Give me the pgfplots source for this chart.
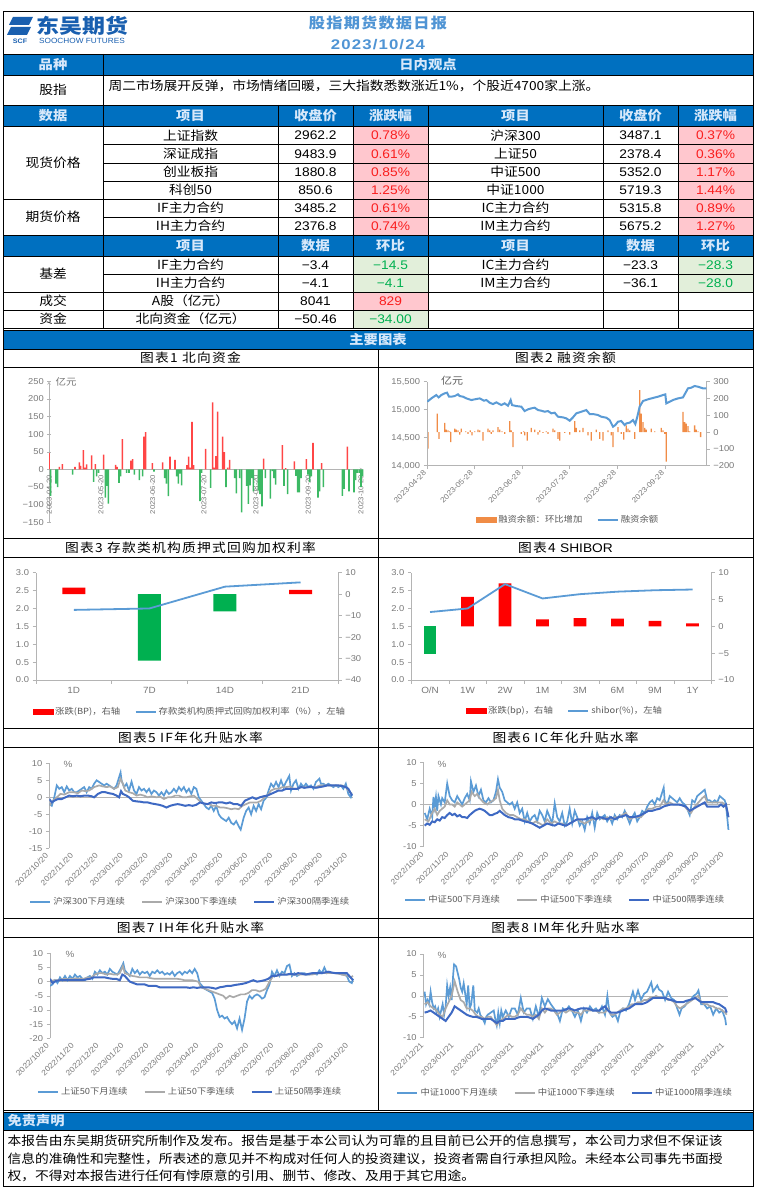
\documentclass[border=0pt]{standalone}
\usepackage{fontspec}
\usepackage{pgfplots}
\pgfplotsset{compat=1.18}
\setmainfont{Noto Sans CJK SC}[FakeStretch=1.1]
\newfontfamily\ar{Liberation Sans}[FakeStretch=1.1]
\newfontfamily\ttlf{Noto Sans CJK SC}[FakeStretch=1.1,LetterSpace=10]
\newfontfamily\hdf{Noto Sans CJK SC}[FakeStretch=1.12,LetterSpace=8]
\newfontfamily\hdar{Liberation Sans}[FakeStretch=1.2,LetterSpace=8]
\newfontfamily\logof{Noto Sans CJK SC}[FakeStretch=1.15]

\definecolor{hblue}{RGB}{0,112,192}
\definecolor{htext}{RGB}{215,232,250}
\definecolor{ttl}{RGB}{79,148,212}
\definecolor{logob}{RGB}{25,95,175}
\definecolor{pinkc}{RGB}{255,199,206}
\definecolor{redt}{RGB}{250,30,30}
\definecolor{greenc}{RGB}{226,239,218}
\definecolor{greent}{RGB}{0,176,80}
\definecolor{lb}{RGB}{91,155,213}
\definecolor{gr}{RGB}{170,170,170}
\definecolor{db}{RGB}{62,105,195}
\definecolor{axg}{RGB}{180,180,180}
\definecolor{tkg}{RGB}{120,120,120}
\definecolor{lgc}{RGB}{89,89,89}
\definecolor{org}{RGB}{240,140,70}
\definecolor{rbar}{RGB}{255,70,70}
\definecolor{gbar}{RGB}{60,185,100}
\definecolor{rb}{RGB}{255,0,0}
\definecolor{gb}{RGB}{0,176,80}

\newcommand\tk{\ar\fontsize{8.5}{10}\selectfont}
\newcommand\lgf{\fontsize{8.5}{10}\selectfont}
\newcommand\tbf{\fontsize{12.5}{14}\selectfont}
\newcommand\tnum{\ar\fontsize{12.5}{14}\selectfont}
\newcommand\hb{\bfseries\fontsize{13}{15}\selectfont\color{htext}}
\newcommand\ttl{\ttlf\fontsize{12.5}{14}\selectfont}

\pgfplotsset{
 every axis/.append style={scale only axis, scaled ticks=false,
  axis line style={-,draw=axg,line width=0.6pt},
  every inner x axis line/.append style={-},every outer x axis line/.append style={-},
  every inner y axis line/.append style={-},every outer y axis line/.append style={-},
  tick style={draw=axg,line width=0.6pt}, tick align=outside, major tick length=3.5pt,
  tick label style={font=\tk,text=tkg},
  legend style={draw=none,fill=none,font=\lgf,text=lgc,legend columns=-1,anchor=center,
   /tikz/every even column/.append style={column sep=12pt}},
  legend image code/.code={\draw[#1,line width=2.4pt] (0pt,0pt) -- (20pt,0pt);},
  major grid style={draw=axg,line width=0.6pt}},
 ts/.style={axis y line*=left, axis x line*=bottom, x axis line style={draw=none},
  xtick style={draw=none}, xticklabel style={rotate=45,anchor=east,font=\ar\fontsize{7.8}{9}\selectfont},
  extra y ticks={0}, extra y tick labels={}, extra y tick style={grid=major},
  legend style={legend columns=3, /tikz/every even column/.append style={column sep=14pt}}},
 s1/.style={lb,line width=1.7pt},
 s2/.style={gr,line width=1.7pt},
 s3/.style={db,line width=2.0pt},
}

\begin{document}
\begin{tikzpicture}[x=1pt,y=-1pt]
\path[use as bounding box] (0,0) rectangle (757,1196);
\coordinate (A1) at (49,522.3);
\coordinate (A2) at (427,465.7);
\coordinate (A3) at (36,680);
\coordinate (A4) at (411.3,680);
\coordinate (A5) at (49.3,848.3);
\coordinate (A6) at (423.7,846.7);
\coordinate (A7) at (50,1038.3);
\coordinate (A8) at (423.7,1037.7);

% ---------- header ----------
\fill[logob] (13,17) -- (33,17) -- (29,25) -- (9,25) -- cycle;
\fill[logob] (11,27) -- (31,27) -- (27,35) -- (7,35) -- cycle;
\node[text=logob] at (20,41) {\ar\bfseries\fontsize{6.5}{7}\selectfont SCF};
\node at (82,26) {\logof\bfseries\fontsize{20}{22}\selectfont\color{logob}东吴期货};
\node at (82,41) {\ar\fontsize{7.5}{8}\selectfont\color{logob}SOOCHOW FUTURES};
\node at (378,23) {\hdf\bfseries\fontsize{14.5}{16}\selectfont\color{ttl}股指期货数据日报};
\node at (378,45) {\hdar\bfseries\fontsize{14}{16}\selectfont\color{ttl}2023/10/24};

% ---------- table fills ----------
\fill[hblue] (3,54) rectangle (753,75);
\fill[hblue] (3,105) rectangle (753,126);
\fill[hblue] (3,235) rectangle (753,256);
\fill[hblue] (3,330) rectangle (753,349);
\fill[pinkc] (353,126) rectangle (428,235);
\fill[pinkc] (678,126) rectangle (753,235);
\fill[greenc] (353,256) rectangle (428,292);
\fill[greenc] (678,256) rectangle (753,292);
\fill[pinkc] (353,292) rectangle (428,310);
\fill[greenc] (353,310) rectangle (428,328);

% lines
\begin{scope}[line width=0.6pt]
\draw (3,54)--(753,54); \draw (3,75)--(753,75); \draw (3,105)--(753,105); \draw (3,126)--(753,126);
\foreach \y in {144.5,163,181,217,274} \draw (103,\y)--(753,\y);
\foreach \y in {199,235,256,292,310,328,330} \draw (3,\y)--(753,\y);
\draw (103,54)--(103,328);
\foreach \x in {278,353,428,603,678} \draw (\x,105)--(\x,328);
\end{scope}

% header row texts
\node at (53,64.5) {\hb 品种};
\node at (428,64.5) {\hb 日内观点};
\node at (53,90) {\tbf 股指};
\node[anchor=west] at (105,86) {\tbf 周二市场展开反弹，市场情绪回暖，三大指数悉数涨近1\%，个股近4700家上涨。};
\node at (53,115.5) {\hb 数据};
\node at (190.5,115.5) {\hb 项目};
\node at (315.5,115.5) {\hb 收盘价};
\node at (390.5,115.5) {\hb 涨跌幅};
\node at (515.5,115.5) {\hb 项目};
\node at (640.5,115.5) {\hb 收盘价};
\node at (715.5,115.5) {\hb 涨跌幅};

\node at (53,162.5) {\tbf 现货价格};
\node at (53,217) {\tbf 期货价格};
\foreach \yy/\a/\b/\c/\d/\e/\f in {
 135.3/上证指数/2962.2/0.78\%/沪深300/3487.1/0.37\%,
 153.8/深证成指/9483.9/0.61\%/上证50/2378.4/0.36\%,
 172/创业板指/1880.8/0.85\%/中证500/5352.0/1.17\%,
 190/科创50/850.6/1.25\%/中证1000/5719.3/1.44\%,
 208/IF主力合约/3485.2/0.61\%/IC主力合约/5315.8/0.89\%,
 226/IH主力合约/2376.8/0.74\%/IM主力合约/5675.2/1.27\%} {
 \node at (190.5,\yy) {\tbf \a};
 \node at (315.5,\yy) {\tnum \b};
 \node[text=redt] at (390.5,\yy) {\tnum \c};
 \node at (515.5,\yy) {\tbf \d};
 \node at (640.5,\yy) {\tnum \e};
 \node[text=redt] at (715.5,\yy) {\tnum \f};
}
\node at (190.5,245.5) {\hb 项目};
\node at (315.5,245.5) {\hb 数据};
\node at (390.5,245.5) {\hb 环比};
\node at (515.5,245.5) {\hb 项目};
\node at (640.5,245.5) {\hb 数据};
\node at (715.5,245.5) {\hb 环比};

\node at (53,274) {\tbf 基差};
\node at (190.5,265) {\tbf IF主力合约};
\node at (315.5,265) {\tnum −3.4};
\node[text=greent] at (390.5,265) {\tnum −14.5};
\node at (515.5,265) {\tbf IC主力合约};
\node at (640.5,265) {\tnum −23.3};
\node[text=greent] at (715.5,265) {\tnum −28.3};
\node at (190.5,283) {\tbf IH主力合约};
\node at (315.5,283) {\tnum −4.1};
\node[text=greent] at (390.5,283) {\tnum −4.1};
\node at (515.5,283) {\tbf IM主力合约};
\node at (640.5,283) {\tnum −36.1};
\node[text=greent] at (715.5,283) {\tnum −28.0};
\node at (53,301) {\tbf 成交};
\node at (190.5,301) {\tbf A股（亿元）};
\node at (315.5,301) {\tnum 8041};
\node[text=redt] at (390.5,301) {\tnum 829};
\node at (53,319) {\tbf 资金};
\node at (190.5,319) {\tbf 北向资金（亿元）};
\node at (315.5,319) {\tnum −50.46};
\node[text=greent] at (390.5,319) {\tnum −34.00};
\node at (378,339.5) {\hb 主要图表};

% ---------- chart frames ----------
\begin{scope}[line width=0.8pt]
\foreach \x in {3,378} {
 \foreach \ya/\yb/\yc in {349/367/538,538/557/728,728/747/918,918/937/1110} {
  \draw (\x,\ya) rectangle ({\x+375},\yb);
  \draw (\x,\yb) rectangle ({\x+375},\yc);
 }}
\end{scope}
\node at (190.5,358) {\ttl 图表1\ 北向资金};
\node at (565.5,358) {\ttl 图表2\ 融资余额};
\node at (190.5,547.5) {\ttl 图表3\ 存款类机构质押式回购加权利率};
\node at (565.5,547.5) {\ttl 图表4\ \ar SHIBOR};
\node at (190.5,737.5) {\ttl 图表5\ IF年化升贴水率};
\node at (565.5,737.5) {\ttl 图表6\ IC年化升贴水率};
\node at (190.5,927.5) {\ttl 图表7\ IH年化升贴水率};
\node at (565.5,927.5) {\ttl 图表8\ IM年化升贴水率};

% ---------- chart 1 ----------
\begin{axis}[at={(A1)},anchor=south west,width=314.3pt,height=141pt,
 xmin=147,xmax=1090,ymin=-150,ymax=250,
 axis x line=middle, axis y line=left, hide obscured x ticks=false,
 ytick={-150,-100,-50,0,50,100,150,200,250},
 yticklabels={−150,−100,−50,0,50,100,150,200,250},
 xtick={148,303,458,612,768,925,1083},
 xticklabels={2023-04-20,2023-05-20,2023-06-20,2023-07-20,2023-08-20,2023-09-20,2023-10-20},
 xticklabel style={rotate=90,anchor=east,font=\ar\fontsize{7}{8}\selectfont},
 xtick style={draw=none}]
\addplot[ybar,bar width=1.6pt,bar shift=0pt,fill=rbar,draw=none] coordinates {
(147,47) (178,7) (187,15) (225,7) (238,20) (242,10) (250,55) (255,5) (260,14) (275,40) (286,15) (311,42) (347,13) (351,7) (367,86) (393,25) (398,29) (432,93) (437,106) (457,18) (488,20) (510,36) (525,27) (561,12) (566,36) (571,5) (576,135) (581,12) (617,58) (638,190) (643,5) (648,38) (653,164) (668,93) (673,49) (683,5) (689,27) (791,31) (847,69) (857,4) (883,23) (919,29) (939,75) (965,18) (1042,65)};
\addplot[ybar,bar width=1.6pt,bar shift=0pt,fill=gbar,draw=none] coordinates {
(152,-75) (168,-40) (173,-50) (218,-15) (281,-35) (290,-20) (296,-10) (316,-80) (320,-47) (325,-97) (357,-38) (362,-20) (380,-10) (387,-10) (403,-15) (418,-30) (428,-20) (462,-6) (494,-25) (499,-40) (505,-76) (530,-20) (535,-40) (540,-12) (545,-45) (600,-90) (605,-10) (632,-52) (678,-50) (704,-25) (709,-68) (719,-25) (725,-122) (740,-47) (745,-98) (750,-45) (755,-25) (760,-62) (775,-60) (780,-70) (786,-105) (796,-25) (811,-83) (817,-5) (822,-25) (827,-43) (852,-47) (863,-70) (888,-18) (893,-65) (898,-65) (903,-25) (924,-15) (929,-35) (934,-20) (954,-80) (959,-62) (970,-50) (1027,-75) (1032,-55) (1047,-62) (1062,-65) (1067,-30) (1072,-10) (1078,-10) (1083,-50) (1088,-20)};
\end{axis}
\node[text=tkg] at (66,382) {\fontsize{9.5}{11}\selectfont 亿元};

% ---------- chart 2 ----------
\begin{axis}[at={(A2)},anchor=south west,width=279.3pt,height=84pt,
 xmin=147,xmax=985,ymin=-200,ymax=300, axis y line*=right, axis x line=none, xtick=\empty,
 ytick={-200,-100,0,100,200,300}, yticklabels={−200,−100,0,100,200,300}]
\addplot[ybar,bar width=1.3pt,bar shift=0pt,fill=org,draw=none] coordinates {
(150,-98) (178,110) (183,-40) (200,55) (205,15) (210,10) (215,5) (218,-60) (230,20) (235,15) (240,10) (245,-15) (250,20) (263,5) (270,-10) (277,10) (282,-20) (290,5) (300,15) (305,10) (315,-50) (330,20) (335,10) (340,-10) (345,10) (360,30) (365,15) (372,5) (380,-10) (395,65) (400,10) (405,-90) (430,-10) (437,5) (440,-20) (448,-50) (460,25) (470,15) (480,-15) (485,10) (495,-5) (505,5) (510,-10) (525,20) (530,10) (540,-40) (545,-50) (560,-5) (575,-15) (590,65) (595,25) (605,10) (615,25) (630,-20) (640,-50) (655,15) (665,-40) (675,-50) (690,10) (700,-20) (705,-90) (720,30) (730,-10) (737,-45) (745,40) (750,20) (755,10) (770,-40) (785,250) (790,110) (795,60) (800,25) (805,15) (820,20) (830,5) (850,25) (855,10) (860,-10) (865,-175) (915,120) (920,60) (925,50) (930,35) (935,5) (950,40) (955,15) (960,5) (968,-30)};
\end{axis}
\begin{axis}[at={(A2)},anchor=south west,width=279.3pt,height=84pt,
 xmin=147,xmax=985,ymin=14000,ymax=15500, axis y line*=left, axis x line*=bottom,
 ytick={14000,14500,15000,15500}, yticklabels={{14,000},{14,500},{15,000},{15,500}},
 xtick={148,288,432,574,718,862},
 xticklabels={2023-04-28,2023-05-28,2023-06-28,2023-07-28,2023-08-28,2023-09-28},
 xticklabel style={rotate=45,anchor=east,font=\ar\fontsize{7.5}{8}\selectfont},
 legend style={at={(0.505,-0.646)}}]
\addlegendimage{legend image code/.code={\fill[org] (0pt,-2.5pt) rectangle (20pt,2.5pt);}}
\addplot[lb,line width=2pt] coordinates {
(148,15143) (160,15202) (175,15262) (182,15220) (190,15262) (200,15292) (207,15304) (213,15232) (220,15232) (230,15244) (240,15274) (245,15244) (255,15232) (265,15202) (280,15173) (290,15185) (305,15202) (318,15161) (325,15173) (335,15125) (345,15101) (355,15131) (370,15083) (380,15113) (390,15071) (398,15173) (402,15083) (415,15065) (430,15054) (440,14976) (450,15006) (460,15024) (470,15036) (480,14994) (490,14982) (500,14964) (510,14976) (520,14935) (530,14946) (540,14875) (555,14863) (565,14845) (575,14804) (585,14863) (595,14935) (610,14964) (625,14994) (635,14923) (645,14923) (660,14905) (670,14875) (685,14857) (695,14815) (705,14696) (712,14726) (720,14786) (730,14798) (740,14726) (745,14756) (755,14768) (765,14815) (772,14744) (778,14875) (785,15054) (795,15155) (810,15185) (820,15202) (840,15232) (855,15262) (862,15274) (865,15113) (875,15143) (885,15173) (900,15202) (915,15220) (930,15381) (940,15393) (950,15423) (960,15411) (975,15381) (985,15381)};
\legend{融资余额：环比增加,融资余额}
\end{axis}
\node[text=lgc] at (452,381) {\fontsize{10}{11}\selectfont 亿元};

% ---------- chart 3 ----------
\begin{axis}[at={(A3)},anchor=south west,width=302.3pt,height=107.3pt,
 xmin=-0.5,xmax=3.5,ymin=-40,ymax=10, axis y line*=right, axis x line=none, xtick=\empty,
 ytick={-40,-30,-20,-10,0,10}, yticklabels={−40,−30,−20,−10,0,10}]
\addplot[ybar,bar width=23pt,bar shift=0pt,fill=rb,draw=none] coordinates {(0,3) (3,2)};
\addplot[ybar,bar width=23pt,bar shift=0pt,fill=gb,draw=none] coordinates {(1,-31) (2,-8)};
\end{axis}
\begin{axis}[at={(A3)},anchor=south west,width=302.3pt,height=107.3pt,
 xmin=-0.5,xmax=3.5,ymin=0,ymax=3, axis y line*=left, axis x line*=bottom,
 ytick={0,0.5,1,1.5,2,2.5,3}, yticklabels={0.0,0.5,1.0,1.5,2.0,2.5,3.0},
 xtick={-0.5,0.5,1.5,2.5,3.5}, x tick label as interval, xticklabels={1D,7D,14D,21D},
 xticklabel style={font=\ar\fontsize{9}{10}\selectfont},
 legend style={at={(0.509,-0.298)}}]
\addlegendimage{legend image code/.code={\fill[rb] (0pt,-2.5pt) rectangle (20pt,2.5pt);}}
\addplot[lb,line width=1.8pt] coordinates {(0,1.96) (1,2.0) (2,2.61) (3,2.73)};
\legend{涨跌(BP)，右轴,存款类机构质押式回购加权利率（\%），左轴}
\end{axis}

% ---------- chart 4 ----------
\begin{axis}[at={(A4)},anchor=south west,width=300pt,height=107.3pt,
 xmin=-0.5,xmax=7.5,ymin=-10,ymax=10, axis y line*=right, axis x line=none, xtick=\empty,
 ytick={-10,-5,0,5,10}, yticklabels={−10,−5,0,5,10}]
\addplot[ybar,bar width=12.7pt,bar shift=0pt,fill=rb,draw=none] coordinates {(1,5.5) (2,8.0) (3,1.3) (4,1.55) (5,1.43) (6,1.0) (7,0.56)};
\addplot[ybar,bar width=12.7pt,bar shift=0pt,fill=gb,draw=none] coordinates {(0,-5.2)};
\end{axis}
\begin{axis}[at={(A4)},anchor=south west,width=300pt,height=107.3pt,
 xmin=-0.5,xmax=7.5,ymin=0,ymax=3, axis y line*=left, axis x line*=bottom,
 ytick={0,0.5,1,1.5,2,2.5,3}, yticklabels={0.0,0.5,1.0,1.5,2.0,2.5,3.0},
 xtick={-0.5,0.5,1.5,2.5,3.5,4.5,5.5,6.5,7.5}, x tick label as interval,
 xticklabels={O/N,1W,2W,1M,3M,6M,9M,1Y},
 xticklabel style={font=\ar\fontsize{9}{10}\selectfont},
 legend style={at={(0.512,-0.29)}}]
\addlegendimage{legend image code/.code={\fill[rb] (0pt,-2.5pt) rectangle (20pt,2.5pt);}}
\addplot[lb,line width=1.8pt] coordinates {(0,1.90) (1,2.00) (2,2.68) (3,2.28) (4,2.40) (5,2.47) (6,2.51) (7,2.53)};
\legend{涨跌(bp)，右轴,shibor(\%)，左轴}
\end{axis}

% ---------- chart 5 IF ----------
\begin{axis}[ts,at={(A5)},anchor=south west,width=304pt,height=85pt,
 xmin=0,xmax=12.2,ymin=-15,ymax=10,
 ytick={-15,-10,-5,0,5,10}, yticklabels={-15,-10,-5,0,5,10},
 xtick={0,...,12},
 xticklabels={2022/10/20,2022/11/20,2022/12/20,2023/01/20,2023/02/20,2023/03/20,2023/04/20,2023/05/20,2023/06/20,2023/07/20,2023/08/20,2023/09/20,2023/10/20},
 legend style={at={(0.463,-0.632)}}]
\addplot[s1] coordinates {(0,-2)(0.1,-2.5)(0.2,0)(0.3,3.5)(0.4,2.5)(0.5,3)(0.6,1.5)(0.7,3.2)(0.8,2)(0.9,2.5)(1.0,1.5)(1.1,1.5)(1.2,2)(1.3,2.5)(1.4,3)(1.5,1.5)(1.6,3)(1.7,2.5)(1.8,4)(1.9,5)(2.0,4.5)(2.1,4)(2.2,3.5)(2.3,4)(2.4,3.5)(2.5,3)(2.6,2.5)(2.7,3.5)(2.86,7.3)(2.9,5)(3.0,3)(3.1,4)(3.2,2)(3.3,4.6)(3.4,2)(3.5,1)(3.6,3)(3.7,2)(3.8,2.5)(3.9,1.5)(4.0,2.5)(4.1,1)(4.2,2)(4.3,1.5)(4.4,0.5)(4.5,1.5)(4.6,0.5)(4.7,2)(4.8,1)(4.9,1.5)(5.0,2.5)(5.1,1.5)(5.2,3)(5.3,2)(5.4,3)(5.5,1.5)(5.6,2.5)(5.7,1)(5.8,3)(5.9,2.5)(6.0,0)(6.1,-1)(6.2,-2)(6.3,-3)(6.4,-3.5)(6.5,-2.5)(6.6,-4)(6.7,-2.5)(6.8,-5)(6.9,-6)(7.0,-6.5)(7.1,-7)(7.2,-6)(7.3,-7.5)(7.4,-8)(7.5,-7)(7.6,-8.5)(7.68,-9.5)(7.8,-6)(7.9,-4)(8.0,-3)(8.1,-5)(8.2,-2.5)(8.3,-4)(8.4,-2)(8.5,-3.5)(8.6,-1)(8.72,0)(8.8,2)(8.9,4)(9.0,3)(9.1,4.5)(9.2,3)(9.3,5)(9.4,3)(9.5,4.5)(9.63,6.3)(9.7,2)(9.8,4)(9.9,5)(10.0,2.5)(10.1,4)(10.2,3)(10.3,4)(10.4,3)(10.5,3.5)(10.6,2.5)(10.7,4.5)(10.84,5.5)(10.9,4)(11.0,4)(11.1,3.5)(11.2,4)(11.3,3.5)(11.4,3)(11.5,3.5)(11.6,3)(11.7,3.5)(11.8,2.5)(11.9,4)(12.0,1)(12.1,0)(12.15,1)};
\addplot[s2] coordinates {(0,-2.5)(0.15,-1)(0.3,0)(0.45,1)(0.6,0.8)(0.8,1.5)(1.0,1.5)(1.15,1.2)(1.3,2)(1.45,1.8)(1.6,2)(1.8,3)(2.0,3.5)(2.15,3.2)(2.3,3)(2.45,3.2)(2.6,2.5)(2.75,3)(2.86,5.5)(2.95,4)(3.05,2)(3.2,1.5)(3.35,1.2)(3.5,0.5)(3.65,0.8)(3.8,0.5)(3.95,0)(4.1,0.3)(4.3,0)(4.45,0.2)(4.6,-0.5)(4.75,0)(4.9,0)(5.05,0.5)(5.2,0.5)(5.35,0)(5.5,0)(5.65,0.3)(5.8,0.5)(5.95,-0.5)(6.1,-1.5)(6.25,-2)(6.4,-2)(6.55,-2.5)(6.7,-2.5)(6.85,-3)(7.0,-3)(7.15,-3.2)(7.3,-3.5)(7.45,-3.3)(7.6,-3.5)(7.75,-2.5)(7.9,-2)(8.05,-1.5)(8.2,-1.5)(8.35,-1.5)(8.5,-1)(8.65,0)(8.8,1)(8.9,2)(9.05,2.5)(9.2,2.5)(9.35,3)(9.5,3)(9.65,3.2)(9.8,2.5)(9.95,2.5)(10.1,3)(10.25,3)(10.4,3)(10.55,3)(10.7,3)(10.85,3.5)(11.0,3.5)(11.15,3.5)(11.3,3.5)(11.45,3.5)(11.6,3.5)(11.75,3.5)(11.9,3)(12.0,2)(12.15,1)};
\addplot[s3] coordinates {(0,-0.5)(0.1,-1.5)(0.2,-1)(0.35,-0.5)(0.5,-0.5)(0.65,0)(0.8,0.5)(0.95,0.3)(1.1,0.5)(1.25,0.3)(1.4,0.5)(1.55,0.5)(1.7,0.3)(1.8,0)(1.95,1)(2.1,1.5)(2.25,1.5)(2.4,1.2)(2.55,1)(2.7,0.5)(2.8,0)(2.88,1.8)(2.95,1)(3.1,0.5)(3.2,0)(3.35,-1)(3.5,-1.2)(3.65,-1.3)(3.8,-1.5)(3.95,-1.5)(4.1,-1.8)(4.25,-2)(4.4,-2.2)(4.55,-2.5)(4.7,-3)(4.85,-2.5)(5.0,-2.2)(5.15,-2)(5.3,-2.2)(5.45,-2.5)(5.6,-2.3)(5.75,-2.5)(5.9,-2.2)(6.05,-1.5)(6.2,-1.8)(6.35,-2)(6.5,-1.5)(6.65,-1.7)(6.8,-1.5)(6.95,-1.5)(7.1,-1.8)(7.25,-1.5)(7.4,-2)(7.55,-2)(7.7,-2.5)(7.85,-1)(8.0,-0.5)(8.15,0)(8.3,-0.5)(8.45,0)(8.6,0.3)(8.75,0.5)(8.9,1)(9.05,1.5)(9.2,2)(9.35,2)(9.5,2.5)(9.65,2.5)(9.8,2.5)(9.95,2.5)(10.1,3)(10.25,2.8)(10.4,3)(10.55,3)(10.7,2.8)(10.85,3)(11.0,3.2)(11.15,3.5)(11.3,3.5)(11.45,3.5)(11.6,3.5)(11.75,3.3)(11.9,3)(12.0,2.5)(12.15,0.5)};
\legend{沪深300下月连续,沪深300下季连续,沪深300隔季连续}
\end{axis}
\node[text=tkg] at (68,764) {\ar\fontsize{9}{10}\selectfont\%};

% ---------- chart 6 IC ----------
\begin{axis}[ts,at={(A6)},anchor=south west,width=306pt,height=84.4pt,
 xmin=-0.04,xmax=12.2,ymin=-10,ymax=10,
 ytick={-10,-5,0,5,10}, yticklabels={-10,-5,0,5,10},
 xtick={0,...,12},
 xticklabels={2022/10/20,2022/11/20,2022/12/20,2023/01/20,2023/02/20,2023/03/20,2023/04/20,2023/05/20,2023/06/20,2023/07/20,2023/08/20,2023/09/20,2023/10/20},
 legend style={at={(0.462,-0.63)}}]
\addplot[s1] coordinates {(0,-2)(0.1,-3.5)(0.2,-1)(0.3,-3)(0.35,1.8)(0.4,-0.5)(0.45,1.8)(0.5,-1.5)(0.55,2)(0.65,0)(0.7,1.5)(0.8,0.5)(0.9,5)(1.0,2)(1.1,1)(1.2,0.5)(1.3,2)(1.4,1)(1.5,0)(1.6,1.5)(1.7,2.5)(1.8,1)(1.85,5.5)(1.95,3)(2.05,4.5)(2.15,2)(2.25,3.5)(2.35,1)(2.45,0.5)(2.55,1.5)(2.65,0.5)(2.75,1)(2.85,3)(2.93,6)(3.0,4)(3.1,3)(3.2,1)(3.3,0.5)(3.4,0)(3.5,0.5)(3.6,-1)(3.7,0.5)(3.8,-2)(3.9,-1)(4.0,-4)(4.1,-2)(4.2,-4)(4.3,-3)(4.4,-2.5)(4.5,-4)(4.6,-1.5)(4.7,-2.5)(4.8,-4)(4.9,-1.5)(5.0,-3)(5.1,-4.5)(5.2,0.3)(5.3,-3)(5.4,-4)(5.5,-2)(5.6,-5)(5.7,-4)(5.8,-1)(5.9,-4.5)(6.0,-1.5)(6.1,-3)(6.2,-5)(6.3,-4)(6.4,-6)(6.5,-3)(6.6,-4.5)(6.7,-2)(6.8,-5.5)(6.9,-2)(7.0,-3.5)(7.1,-3)(7.2,-2.5)(7.3,-4)(7.4,-3)(7.5,-4.5)(7.6,-2.5)(7.7,-3.5)(7.8,-2.5)(7.9,-3)(8.0,-1.5)(8.1,-3)(8.2,-4.5)(8.3,-3)(8.4,-2)(8.5,-4)(8.6,-3)(8.7,-1.5)(8.8,-2)(8.9,-0.5)(9.0,0.5)(9.1,1)(9.2,0)(9.3,1.5)(9.4,1)(9.56,4)(9.6,1)(9.7,0)(9.8,2)(9.9,1.5)(10.0,1)(10.1,0.5)(10.2,1.5)(10.3,0.5)(10.4,0)(10.5,-1)(10.6,-2.5)(10.7,1)(10.8,0.5)(10.9,2)(11.0,2.5)(11.1,3)(11.2,3.5)(11.3,1)(11.4,1)(11.5,0.5)(11.6,1)(11.7,0.5)(11.8,2)(11.9,1.5)(12.0,1)(12.05,0)(12.1,-3)(12.15,-6)};
\addplot[s2] coordinates {(0,-3.5)(0.15,-4)(0.3,-2)(0.4,-1)(0.5,-2.5)(0.6,-1.5)(0.7,-1)(0.8,-0.5)(0.9,1)(1.0,0)(1.1,0)(1.2,-0.5)(1.3,0.5)(1.4,0)(1.5,-0.5)(1.6,0)(1.7,0.5)(1.8,1)(1.88,3)(2.0,2)(2.1,2.5)(2.2,1.5)(2.35,0.5)(2.5,0)(2.6,0.5)(2.75,1)(2.85,1.5)(2.93,3.5)(3.0,1)(3.1,-1)(3.25,-2)(3.4,-2.5)(3.55,-2.5)(3.7,-3)(3.85,-3.5)(4.0,-3.5)(4.15,-4)(4.3,-4.5)(4.45,-4)(4.6,-4.5)(4.75,-5)(4.9,-3.5)(5.05,-4.5)(5.2,-4)(5.35,-4.5)(5.5,-4.5)(5.65,-5)(5.8,-4.5)(5.95,-4)(6.1,-3.5)(6.25,-4)(6.4,-4.5)(6.55,-4)(6.7,-3.5)(6.85,-3.5)(7.0,-3)(7.15,-3.5)(7.3,-3)(7.45,-3.5)(7.6,-3)(7.75,-3)(7.9,-2.5)(8.05,-2)(8.2,-3.5)(8.35,-3)(8.5,-3)(8.65,-3)(8.8,-2)(8.95,-1)(9.1,-1)(9.25,-0.5)(9.4,-0.5)(9.55,1)(9.65,0)(9.8,0.5)(9.95,0)(10.1,0)(10.25,0)(10.4,-0.5)(10.55,-1.5)(10.65,-2)(10.8,-0.5)(10.95,0.5)(11.1,1.5)(11.2,2)(11.3,0.5)(11.45,0.5)(11.6,0.5)(11.75,0.5)(11.9,0.5)(12.0,0)(12.1,-1.5)(12.15,-3)};
\addplot[s3] coordinates {(0,-5)(0.1,-4.5)(0.2,-4.8)(0.3,-4)(0.4,-4.2)(0.5,-3.5)(0.6,-3.8)(0.7,-3)(0.8,-3.2)(0.9,-2.5)(1.0,-2)(1.1,-2.5)(1.2,-2.2)(1.3,-2.8)(1.4,-2.5)(1.5,-3)(1.6,-3)(1.7,-3.2)(1.8,-2.5)(1.9,-2)(2.0,-1.5)(2.1,-1.2)(2.2,-1)(2.3,-1.2)(2.4,-1.5)(2.5,-2)(2.6,-2.5)(2.7,-2.5)(2.8,-2.2)(2.9,-2)(3.0,-1.5)(3.1,-2)(3.2,-2.5)(3.35,-3)(3.5,-3.2)(3.6,-3.5)(3.75,-3.5)(3.9,-3.8)(4.0,-4)(4.15,-4.2)(4.3,-4.5)(4.45,-5)(4.6,-5.5)(4.75,-5)(4.9,-4.5)(5.05,-4.8)(5.2,-5)(5.35,-4.5)(5.5,-4.8)(5.65,-5)(5.8,-4.5)(5.95,-4)(6.1,-3.5)(6.25,-3.5)(6.4,-3.5)(6.55,-3.2)(6.7,-3)(6.85,-3.5)(7.0,-3)(7.15,-3.2)(7.3,-3.5)(7.45,-3)(7.6,-3.5)(7.75,-3)(7.9,-2.8)(8.05,-2.5)(8.2,-3)(8.35,-3)(8.5,-2.8)(8.65,-2.5)(8.8,-2)(8.95,-1.5)(9.1,-1.5)(9.25,-1.2)(9.4,-1)(9.55,-0.5)(9.7,-0.2)(9.85,0)(10.0,0)(10.15,0)(10.3,-0.2)(10.45,-0.5)(10.6,-1.5)(10.75,-1)(10.9,-0.5)(11.05,0)(11.2,0.5)(11.3,-0.5)(11.45,-0.5)(11.6,-0.5)(11.75,-0.5)(11.85,0)(11.95,-0.5)(12.05,0)(12.1,-1.5)(12.15,-3)};
\legend{中证500下月连续,中证500下季连续,中证500隔季连续}
\end{axis}
\node[text=tkg] at (442,764) {\ar\fontsize{9}{10}\selectfont\%};

% ---------- chart 7 IH ----------
\begin{axis}[ts,at={(A7)},anchor=south west,width=304.3pt,height=85pt,
 xmin=0,xmax=12.2,ymin=-20,ymax=10,
 ytick={-20,-15,-10,-5,0,5,10}, yticklabels={-20,-15,-10,-5,0,5,10},
 xtick={0,...,12},
 xticklabels={2022/10/20,2022/11/20,2022/12/20,2023/01/20,2023/02/20,2023/03/20,2023/04/20,2023/05/20,2023/06/20,2023/07/20,2023/08/20,2023/09/20,2023/10/20},
 legend style={at={(0.46,-0.632)}}]
\addplot[s1] coordinates {(0,-1.5)(0.1,-1)(0.2,0.5)(0.3,-0.5)(0.4,1.5)(0.5,0.5)(0.6,2)(0.7,0.5)(0.8,2)(0.9,1)(1.0,2.5)(1.1,1.5)(1.2,2)(1.3,1)(1.4,0.5)(1.5,1.5)(1.6,2)(1.7,1)(1.8,3.5)(1.9,2.5)(2.0,4)(2.1,3)(2.2,3.5)(2.3,2.5)(2.4,4.5)(2.5,3.5)(2.6,3)(2.7,2.5)(2.8,4)(2.94,6.5)(3.0,4)(3.1,3)(3.2,2)(3.3,4.5)(3.4,3)(3.5,4)(3.6,2.5)(3.7,3.5)(3.8,3)(3.9,3.5)(4.0,2)(4.1,3.5)(4.2,3)(4.3,4)(4.4,3)(4.5,3.5)(4.6,2.5)(4.7,3)(4.8,2.5)(4.9,3.5)(5.0,2)(5.1,3)(5.2,3.5)(5.3,2.5)(5.4,3.5)(5.5,3)(5.6,4)(5.7,3)(5.8,4.5)(5.9,3)(6.0,-0.5)(6.1,-1.5)(6.2,-2.5)(6.3,-3)(6.4,-3.5)(6.5,-4)(6.6,-6)(6.7,-10)(6.8,-12.5)(6.9,-12)(7.0,-13)(7.1,-12.5)(7.2,-14)(7.3,-15)(7.4,-14)(7.5,-16.5)(7.6,-13)(7.7,-17)(7.8,-13)(7.9,-7)(8.0,-5)(8.1,-6)(8.2,-5)(8.3,-4.5)(8.4,-5)(8.5,-6)(8.6,-5.5)(8.7,-3)(8.8,-1)(8.9,3.5)(9.0,2)(9.1,4)(9.2,2)(9.3,3.5)(9.4,3)(9.5,5.5)(9.6,6)(9.7,2)(9.8,3)(9.9,2)(10.0,2.5)(10.1,3)(10.2,3)(10.3,2.5)(10.4,2.5)(10.5,3)(10.6,3)(10.7,2.5)(10.8,4)(10.9,3)(11.0,5)(11.1,3)(11.2,3.5)(11.3,3)(11.4,3)(11.5,3)(11.6,3)(11.7,2.5)(11.8,2.5)(11.9,2)(12.0,0)(12.1,-0.5)(12.15,1)};
\addplot[s2] coordinates {(0,0)(0.15,0.5)(0.3,0.5)(0.45,0.8)(0.6,1)(0.75,0.8)(0.9,1)(1.05,1.2)(1.2,1)(1.35,1)(1.5,1.5)(1.65,1.5)(1.8,2.5)(1.95,3)(2.1,3)(2.25,2.5)(2.4,2.8)(2.55,2.5)(2.7,2.5)(2.8,3)(2.92,5.5)(3.0,3)(3.15,2.5)(3.3,2)(3.45,1.8)(3.6,1.5)(3.75,1.5)(3.9,1.5)(4.05,1.2)(4.2,1)(4.35,1)(4.5,1)(4.65,1)(4.8,1)(4.95,1)(5.1,1)(5.25,0.8)(5.4,0.5)(5.55,0.5)(5.7,0.5)(5.85,0.2)(5.95,0)(6.05,-2)(6.2,-2.5)(6.35,-3)(6.5,-3.5)(6.65,-4)(6.8,-4.5)(6.95,-5)(7.05,-6)(7.2,-5)(7.35,-5.5)(7.5,-5)(7.65,-4.5)(7.8,-4.5)(7.95,-4)(8.1,-3)(8.25,-3)(8.4,-3.5)(8.55,-3)(8.65,-2.5)(8.8,0)(8.95,2)(9.1,2)(9.3,2.5)(9.45,2.5)(9.6,2.5)(9.75,2.5)(9.9,2.5)(10.05,2.5)(10.2,2.5)(10.35,2.5)(10.5,2.5)(10.65,2.8)(10.8,3)(10.95,3)(11.1,3)(11.25,3)(11.4,3)(11.55,2.8)(11.7,2.5)(11.85,2.2)(11.95,2)(12.05,1.5)(12.15,2)};
\addplot[s3] coordinates {(0,1)(0.1,-0.5)(0.25,0.3)(0.4,0.5)(0.55,0.5)(0.7,0.5)(0.85,0.5)(1.0,0.5)(1.15,0.5)(1.3,0.5)(1.45,0.8)(1.6,1)(1.75,1.5)(1.9,1.5)(2.05,1.5)(2.2,1.5)(2.35,1.2)(2.5,1)(2.65,1)(2.8,0.5)(2.9,2.5)(3.0,2)(3.1,1)(3.2,0)(3.35,-0.5)(3.5,-1)(3.65,-1)(3.8,-1)(3.95,-1.5)(4.1,-1.5)(4.25,-1.5)(4.4,-2)(4.55,-2)(4.7,-2)(4.85,-2)(5.0,-2)(5.15,-2)(5.3,-2)(5.45,-2)(5.6,-2.2)(5.75,-2)(5.9,-2.2)(6.05,-2)(6.2,-2)(6.35,-2)(6.5,-2.2)(6.65,-2.5)(6.8,-2)(6.95,-1.8)(7.1,-1.5)(7.25,-1.5)(7.4,-1.2)(7.55,-1)(7.7,-0.8)(7.85,-0.5)(8.0,0)(8.15,0.5)(8.3,0)(8.45,0.2)(8.6,0.5)(8.75,1)(8.9,2)(9.05,2)(9.2,2.5)(9.35,2.5)(9.5,2.5)(9.65,2.8)(9.8,2.5)(9.95,3)(10.1,2.8)(10.25,2.5)(10.4,2.8)(10.55,3)(10.7,3)(10.85,3)(11.0,3.2)(11.15,3.5)(11.3,3.2)(11.45,3)(11.6,3)(11.75,3)(11.9,3)(12.0,2)(12.15,0.5)};
\legend{上证50下月连续,上证50下季连续,上证50隔季连续}
\end{axis}
\node[text=tkg] at (70,954) {\ar\fontsize{9}{10}\selectfont\%};

% ---------- chart 8 IM ----------
\begin{axis}[ts,at={(A8)},anchor=south west,width=304.5pt,height=83.7pt,
 xmin=-0.03,xmax=10.1,ymin=-10,ymax=10,
 ytick={-10,-5,0,5,10}, yticklabels={-10,-5,0,5,10},
 xtick={0,...,10},
 xticklabels={2022/12/21,2023/01/21,2023/02/21,2023/03/21,2023/04/21,2023/05/21,2023/06/21,2023/07/21,2023/08/21,2023/09/21,2023/10/21},
 legend style={at={(0.464,-0.66)}}]
\addplot[s1] coordinates {(0,1)(0.05,-2)(0.1,-1)(0.15,-2)(0.2,1)(0.25,-1.5)(0.3,-3)(0.35,-2.5)(0.4,-4)(0.45,-3)(0.5,-5)(0.55,-3.5)(0.6,-2)(0.65,-4.5)(0.7,-2.5)(0.75,2.5)(0.8,0)(0.85,2)(0.9,-1)(0.95,5)(0.98,7.5)(1.05,7)(1.1,5.5)(1.15,4)(1.2,2)(1.25,1)(1.3,3)(1.35,0.5)(1.4,-2)(1.45,2.5)(1.5,-3)(1.55,-2)(1.62,2.5)(1.67,-3.5)(1.75,-4)(1.8,-3)(1.85,-4.5)(1.9,-5)(2.0,-6.5)(2.05,-5)(2.1,-4.5)(2.2,-4)(2.3,-3.5)(2.35,-5.5)(2.4,-7)(2.45,-4)(2.5,-6.5)(2.55,-3.5)(2.6,-5)(2.7,-3.5)(2.8,-5)(2.9,-3)(3.0,-3)(3.1,-4.5)(3.2,-0.5)(3.3,-4)(3.4,-3)(3.5,-3)(3.6,-5.5)(3.7,-2.5)(3.8,-5)(3.9,-0.5)(4.0,-2.5)(4.1,-0.8)(4.2,-2)(4.3,-3)(4.4,-4)(4.5,-6)(4.6,-3)(4.7,-3.5)(4.8,-2.5)(4.9,-3.5)(5.0,-5)(5.1,-3.5)(5.2,-6)(5.3,-3)(5.4,-4)(5.5,-2.5)(5.6,-3.5)(5.7,-3)(5.8,-4)(5.9,-2.5)(6.0,-4.5)(6.08,0)(6.15,-4)(6.25,-5)(6.35,-4.5)(6.43,-6)(6.5,-4)(6.6,-3)(6.7,-3.5)(6.8,-2)(6.93,1)(7.0,-1)(7.1,1.3)(7.2,-1)(7.3,0.5)(7.4,1)(7.54,3.2)(7.6,1)(7.74,2.5)(7.8,1.5)(7.9,1)(8.0,-1)(8.1,1)(8.2,-0.5)(8.3,-1)(8.38,-2.5)(8.48,-4.5)(8.55,-3)(8.65,-2.5)(8.75,-1.5)(8.85,-1)(8.95,0)(9.05,0.5)(9.11,1.3)(9.2,-2)(9.3,-2)(9.4,-3)(9.5,-2.5)(9.6,-4.5)(9.7,-3)(9.8,-4)(9.9,-3.5)(10.0,-5.5)(10.03,-7)};
\addplot[s2] coordinates {(0,-2)(0.1,-1.5)(0.2,-2.5)(0.3,-3)(0.4,-3.5)(0.5,-4.5)(0.6,-5)(0.7,-3)(0.8,-1.5)(0.9,0)(1.0,3.5)(1.1,1)(1.2,-1)(1.3,-1.5)(1.4,-3)(1.5,-3)(1.6,-3.5)(1.7,-4.5)(1.8,-5)(1.9,-5)(2.0,-5.5)(2.1,-5)(2.2,-5)(2.3,-6)(2.4,-7)(2.5,-6)(2.6,-5.5)(2.7,-5)(2.8,-4.5)(2.9,-5)(3.0,-5)(3.1,-4.5)(3.2,-3)(3.3,-4)(3.4,-4.5)(3.5,-4.5)(3.6,-5)(3.7,-4.5)(3.8,-5.5)(3.9,-3)(4.0,-4)(4.1,-3)(4.2,-3)(4.3,-3.5)(4.4,-4.5)(4.5,-4)(4.6,-3.5)(4.7,-4)(4.8,-3.5)(4.9,-3.5)(5.0,-4)(5.1,-4)(5.2,-4.5)(5.3,-3.5)(5.4,-3.5)(5.5,-3.5)(5.6,-3.5)(5.7,-3.5)(5.8,-4)(5.9,-4)(6.0,-4)(6.1,-3)(6.2,-4.5)(6.3,-4.5)(6.4,-4)(6.5,-3.5)(6.6,-3)(6.7,-3)(6.8,-2.5)(6.9,-2)(7.0,-2)(7.1,-1.5)(7.2,-1.5)(7.3,-1)(7.4,-1)(7.5,-0.5)(7.6,-0.5)(7.7,0)(7.8,-0.5)(7.9,-0.5)(8.0,-0.5)(8.1,-1)(8.2,-1)(8.3,-1.5)(8.4,-2.5)(8.5,-3)(8.6,-2.5)(8.7,-2)(8.8,-1.5)(8.9,-1)(9.0,-0.5)(9.1,0)(9.2,-1.5)(9.3,-2)(9.4,-2)(9.5,-2.5)(9.6,-2.5)(9.7,-3)(9.8,-3)(9.9,-3.5)(10.0,-4)(10.05,-4.5)};
\addplot[s3] coordinates {(0,-4)(0.1,-3.8)(0.2,-3.5)(0.3,-4)(0.4,-4.5)(0.5,-5)(0.6,-5.5)(0.7,-6)(0.8,-5)(0.9,-4)(1.0,-2.5)(1.1,-3)(1.2,-3.5)(1.3,-4)(1.4,-4.5)(1.5,-4.8)(1.6,-5)(1.7,-5)(1.8,-5.2)(1.9,-5.5)(2.0,-5.5)(2.1,-5.5)(2.2,-5.5)(2.3,-6)(2.4,-6.5)(2.5,-6)(2.6,-6)(2.7,-5.5)(2.8,-5.5)(2.9,-5.5)(3.0,-5.5)(3.1,-5.2)(3.2,-5)(3.3,-5)(3.4,-5)(3.5,-5.2)(3.6,-5.5)(3.7,-5)(3.8,-4.5)(3.9,-3.5)(4.0,-3)(4.1,-3.2)(4.2,-3.5)(4.3,-3.5)(4.4,-3.5)(4.5,-3.5)(4.6,-3.5)(4.7,-3.2)(4.8,-3)(4.9,-3.2)(5.0,-3.5)(5.1,-3.2)(5.2,-3)(5.3,-3)(5.4,-3)(5.5,-3.2)(5.6,-3.5)(5.7,-3.5)(5.8,-3.5)(5.9,-3)(6.0,-2.5)(6.1,-3.5)(6.2,-4)(6.3,-4)(6.4,-4)(6.5,-3.8)(6.6,-3.5)(6.7,-3.2)(6.8,-3)(6.9,-2.5)(7.0,-2)(7.1,-2)(7.2,-2)(7.3,-1.8)(7.4,-1.5)(7.5,-1)(7.6,-0.5)(7.7,-0.5)(7.8,-0.5)(7.9,-0.5)(8.0,-0.5)(8.1,-0.8)(8.2,-1)(8.3,-1.2)(8.4,-1.5)(8.5,-1.5)(8.6,-1.5)(8.7,-1.2)(8.8,-1)(8.9,-0.8)(9.0,-0.5)(9.1,-1)(9.2,-1.5)(9.3,-1.5)(9.4,-1.5)(9.5,-1.5)(9.6,-1.5)(9.7,-1.8)(9.8,-2)(9.9,-2.5)(10.0,-3)(10.05,-4)};
\legend{中证1000下月连续,中证1000下季连续,中证1000隔季连续}
\end{axis}
\node[text=tkg] at (442,955) {\ar\fontsize{9}{10}\selectfont\%};

% ---------- footer ----------
\fill[hblue] (3,1112) rectangle (753,1130);
\draw[line width=0.6pt] (3,1112) -- (753,1112);
\draw[line width=0.6pt] (3,1130) -- (753,1130);
\node[anchor=west] at (4,1121) {\hb 免责声明};
\node[anchor=west] at (4,1141) {\tbf 本报告由东吴期货研究所制作及发布。报告是基于本公司认为可靠的且目前已公开的信息撰写，本公司力求但不保证该};
\node[anchor=west] at (4,1158.5) {\tbf 信息的准确性和完整性，所表述的意见并不构成对任何人的投资建议，投资者需自行承担风险。未经本公司事先书面授};
\node[anchor=west] at (4,1176) {\tbf 权，不得对本报告进行任何有悖原意的引用、删节、修改、及用于其它用途。};

\draw[line width=1pt] (3,12) rectangle (753,1186);
\end{tikzpicture}
\end{document}
